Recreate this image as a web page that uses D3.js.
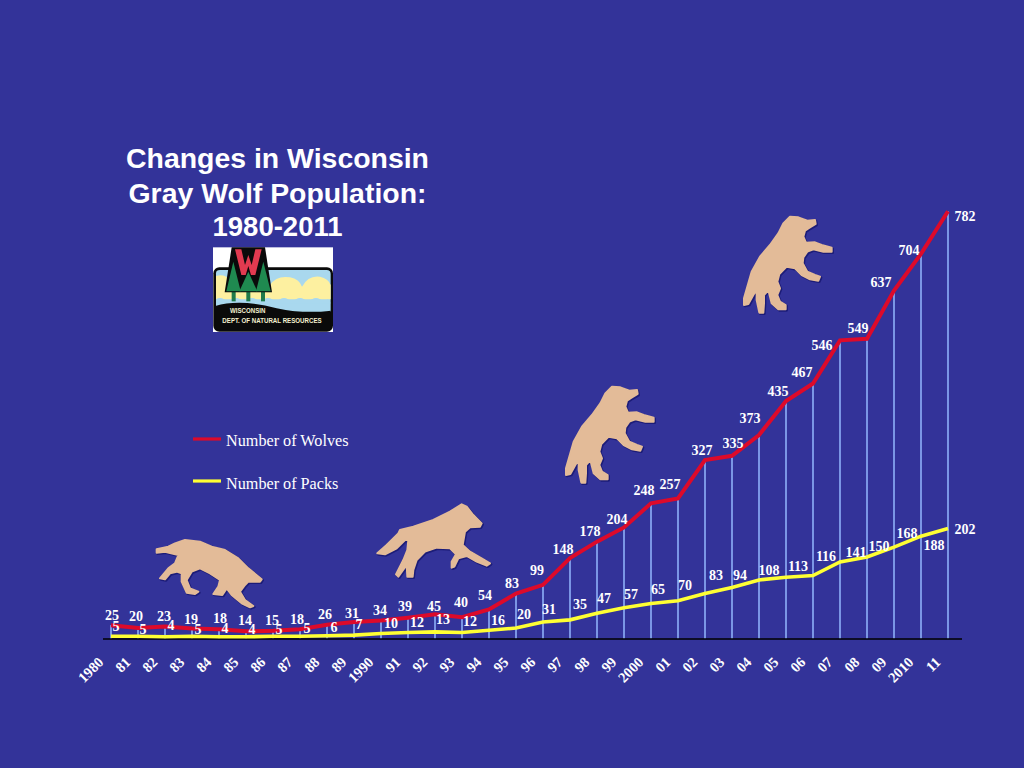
<!DOCTYPE html>
<html><head><meta charset="utf-8">
<script src="https://cdnjs.cloudflare.com/ajax/libs/d3/7.8.5/d3.min.js"></script>
<style>html,body{margin:0;padding:0;background:#333399;overflow:hidden}svg{display:block}</style>
</head><body><svg id="c" width="1024" height="768"></svg>
<script>
const years = d3.range(1980, 2012);
const tickLabels = ["1980","81","82","83","84","85","86","87","88","89","1990","91","92","93","94","95","96","97","98","99","2000","01","02","03","04","05","06","07","08","09","2010","11"];
const wolves = [25,20,23,19,18,14,15,18,26,31,34,39,45,40,54,83,99,148,178,204,248,257,327,335,373,435,467,546,549,637,704,782];
const packs = [5,5,4,5,4,4,5,5,6,7,10,12,13,12,16,20,31,35,47,57,65,70,83,94,108,113,116,141,150,168,188,202];
// label nudges relative to each point
const wolfDx = [1,-2,-1,-1,1,-1,-1,-3,-2,-2,-1,-3,-1,-1,-4,-4,-6,-7,-7,-7,-7,-8,-3,1,-9,-8,-11,-18,-9,-13,-12,17];
const wolfDy = [-11,-12,-11,-10,-12,-12,-11,-11,-11,-9,-11,-12,-9,-16,-15,-11,-15,-9,-11,-9,-14,-15,-11,-13,-17,-10,-12,4,-11,-9,-4,4];
const packDx = [5,5,6,6,6,6,6,7,7,5,10,9,8,8,9,8,6,10,7,7,7,7,11,8,10,12,13,16,12,13,13,17];
const packDy = [-11,-8,-12,-8,-9,-8,-8,-9,-9,-12,-11,-11,-13,-12,-11,-14,-13,-16,-16,-14,-15,-16,-19,-13,-10,-12,-20,-10,-11,-15,8,0];
const titleLines = ["Changes in Wisconsin","Gray Wolf Population:","1980-2011"];

const svg = d3.select("#c");
svg.append("rect").attr("width",1024).attr("height",768).attr("fill","#333399");

const x = d3.scaleLinear().domain([1980,2011]).range([111,948]);
const y = d3.scaleLinear().domain([0,800]).range([639,201.4]);
const serif = "'Liberation Serif','Times New Roman',serif";
const sans = "'Liberation Sans',Arial,sans-serif";

// title
svg.append("g").selectAll("text").data(titleLines).join("text")
  .attr("x",277.5).attr("y",(d,i)=>[168,203,236][i])
  .attr("text-anchor","middle").attr("fill","#fff")
  .attr("font-family",sans).attr("font-weight","bold").attr("font-size",27)
  .attr("textLength",(d,i)=>[303,298,130][i]).attr("lengthAdjust","spacingAndGlyphs")
  .text(d=>d);

// wolf silhouettes (traced outlines)
const rearing = [[210,50],[235,52],[262,62],[285,60],[287,72],[265,85],[255,92],[250,110],[258,128],[285,127],[305,135],[335,143],[335,155],[310,155],[280,148],[262,155],[250,172],[248,190],[262,215],[285,225],[300,230],[295,242],[270,238],[245,225],[225,205],[200,200],[178,222],[172,245],[180,265],[172,285],[180,305],[197,315],[197,328],[175,328],[155,310],[145,270],[132,285],[132,310],[130,338],[118,338],[110,300],[110,270],[100,285],[85,312],[72,315],[72,295],[85,250],[95,215],[120,170],[150,135],[175,100],[190,70]];
const running = [[275,28],[290,35],[310,60],[335,85],[330,95],[300,97],[285,110],[278,150],[300,170],[335,190],[360,205],[350,212],[320,200],[290,183],[265,190],[253,215],[245,218],[245,200],[258,178],[240,160],[200,158],[165,170],[140,195],[130,225],[128,245],[112,245],[110,210],[85,245],[78,238],[100,195],[112,165],[115,135],[105,135],[80,160],[45,178],[22,175],[50,150],[85,115],[90,105],[130,95],[190,75],[240,50]];
const walking = [[120,30],[165,35],[200,50],[240,60],[280,85],[310,115],[350,148],[345,155],[310,155],[300,165],[285,185],[300,210],[325,228],[315,232],[290,220],[260,195],[245,175],[232,195],[205,192],[220,170],[225,150],[195,130],[165,115],[140,125],[125,150],[135,175],[160,185],[150,192],[125,188],[110,155],[110,130],[95,125],[75,130],[60,148],[45,145],[70,115],[90,100],[100,75],[60,65],[35,68],[35,58],[70,50],[90,40]];
const wolfPath = d3.line().curve(d3.curveLinearClosed);
function wolf(pts,ox,oy){
  const g = svg.append("g").attr("transform",`translate(${ox},${oy}) scale(${1/3})`);
  g.append("path").attr("d",wolfPath(pts)).attr("fill","#1c1c78").attr("stroke","#1c1c78").attr("stroke-width",8).attr("stroke-linejoin","round").attr("transform","translate(3,3)");
  g.append("path").attr("d",wolfPath(pts)).attr("fill","#e3bb98").attr("stroke","#e3bb98").attr("stroke-width",6).attr("stroke-linejoin","round");
}
wolf(rearing,720,200);
wolf(rearing,542,370);
wolf(running,370,495);
wolf(walking,145,530);

// logo
const logo = svg.append("g").attr("transform",`translate(180,240) scale(${1/3})`);
logo.append("rect").attr("x",99).attr("y",22).attr("width",360).attr("height",254).attr("fill","#fff");
logo.append("rect").attr("x",100).attr("y",82).attr("width",359).attr("height",193).attr("rx",18).attr("fill","#0a0a0a");
logo.append("path").attr("d","M108,100 Q108,90 120,90 L440,90 Q452,90 452,102 L452,215 L108,215 Z").attr("fill","#a9d8ee");
logo.append("path").attr("d","M108,108 Q135,100 150,122 L270,135 Q290,105 330,112 Q358,118 366,140 Q385,105 420,110 Q445,115 452,135 L452,178 L108,178 Z").attr("fill","#fdf0a0");
logo.append("path").attr("d","M108,178 q12,-8 24,0 t24,0 t24,0 t24,0 t24,0 t24,0 t24,0 t24,0 t24,0 t24,0 t24,0 t24,0 t24,0 t24,0 L452,190 L108,190 Z").attr("fill","#a9d8ee");
logo.append("path").attr("d","M106,198 Q180,175 290,205 Q380,225 452,212 L452,262 Q452,270 440,270 L120,270 Q106,270 106,258 Z").attr("fill","#0a0a0a");
logo.selectAll("rect.trunk").data([161,205,249]).join("rect").attr("class","trunk")
  .attr("x",d=>d-6).attr("y",150).attr("width",12).attr("height",34).attr("fill","#1f7a4a");
logo.append("path").attr("d","M155,22 L255,22 L276,157 L134,157 Z").attr("fill","#0a0a0a");
logo.append("path").attr("d","M160,65 L182,154 L139,154 Z").attr("fill","#1f8a50");
logo.append("path").attr("d","M205,95 L232,154 L178,154 Z").attr("fill","#1f8a50");
logo.append("path").attr("d","M250,65 L272,154 L228,154 Z").attr("fill","#1f8a50");
logo.append("path").attr("d","M165,28 L184,28 L195,75 L205,45 L215,75 L226,28 L245,28 L226,105 L213,105 L205,78 L197,105 L184,105 Z").attr("fill","#e23a50");
logo.append("text").attr("x",150).attr("y",219).attr("font-family",sans).attr("font-weight","bold").attr("font-size",20).attr("textLength",106).attr("lengthAdjust","spacingAndGlyphs").attr("fill","#f5f0d0").text("WISCONSIN");
logo.append("text").attr("x",127).attr("y",250).attr("font-family",sans).attr("font-weight","bold").attr("font-size",20).attr("textLength",298).attr("lengthAdjust","spacingAndGlyphs").attr("fill","#f5f0d0").text("DEPT. OF NATURAL RESOURCES");

// drop lines
svg.append("g").selectAll("line").data(years).join("line")
  .attr("x1",d=>x(d)).attr("x2",d=>x(d))
  .attr("y1",y(0)).attr("y2",(d,i)=>y(wolves[i]))
  .attr("stroke","#94b8ff").attr("stroke-width",1.5);

// axis
const axis = svg.append("g").attr("transform",`translate(0,${y(0)})`)
  .call(d3.axisBottom(x).tickValues(years).tickSize(0).tickFormat((d,i)=>tickLabels[i]));
axis.select(".domain").remove();
axis.append("line").attr("x1",103).attr("x2",962).attr("stroke","#000").attr("stroke-width",1.5);
axis.selectAll(".tick text")
  .attr("fill","#fff").attr("font-family",serif).attr("font-weight","bold").attr("font-size",14.5)
  .attr("text-anchor","end").attr("y",0).attr("dy",0)
  .attr("transform","translate(-7,24) rotate(-45)");

// lines
const lineGen = s => d3.line().x((d,i)=>x(years[i])).y(d=>y(d))(s);
svg.append("path").attr("d",lineGen(packs)).attr("fill","none").attr("stroke","#ffff33").attr("stroke-width",3.6);
svg.append("path").attr("d",lineGen(wolves)).attr("fill","none").attr("stroke","#dd0a2a").attr("stroke-width",4);

// value labels
function labels(vals,dx,dy){
  svg.append("g").selectAll("text").data(vals).join("text")
    .attr("x",(d,i)=>x(years[i])+dx[i]).attr("y",(d,i)=>y(d)+dy[i]+0.5).attr("dy","0.35em")
    .attr("text-anchor","middle").attr("fill","#fff")
    .attr("font-family",serif).attr("font-weight","bold").attr("font-size",14)
    .text(d=>d);
}
labels(wolves,wolfDx,wolfDy);
labels(packs,packDx,packDy);

// legend
const legendNames = ["Number of Wolves","Number of Packs"];
const legendColors = ["#dd0a2a","#ffff33"];
const leg = svg.append("g").selectAll("g").data(legendNames).join("g")
  .attr("transform",(d,i)=>`translate(0,${[439,481][i]})`);
leg.append("line").attr("x1",193).attr("x2",221).attr("stroke",(d,i)=>legendColors[i]).attr("stroke-width",3.2);
leg.append("text").attr("x",226).attr("y",(d,i)=>[7,8][i]).attr("fill","#fff").attr("font-family",serif).attr("font-size",16.2).text(d=>d);
</script></body></html>
